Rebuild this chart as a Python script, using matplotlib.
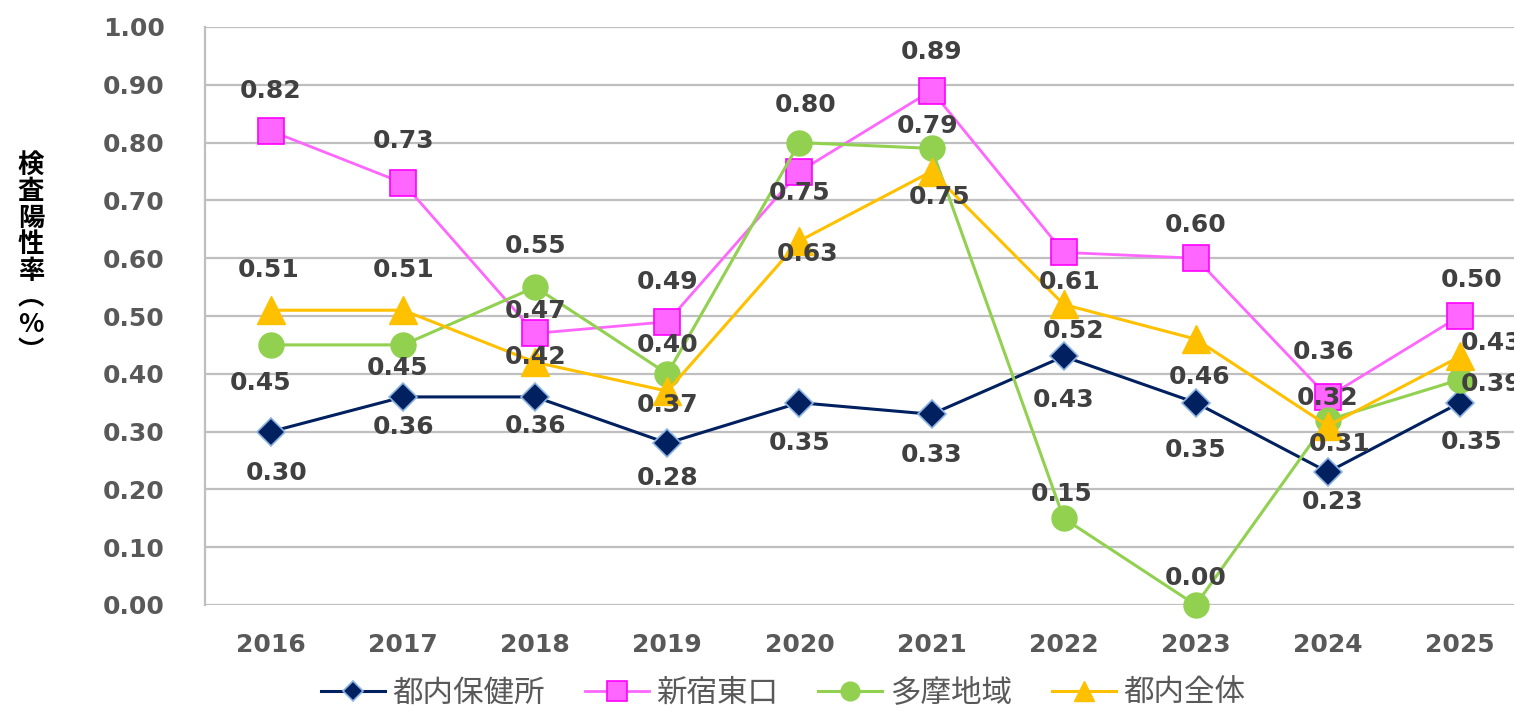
import matplotlib
matplotlib.use("Agg")
import matplotlib.pyplot as plt

plt.rcParams['font.family'] = ['DejaVu Sans', 'Noto Sans CJK JP']

years = ['2016', '2017', '2018', '2019', '2020', '2021', '2022', '2023', '2024', '2025']
series_names = ['都内保健所', '新宿東口', '多摩地域', '都内全体']

hokenjo = [0.30, 0.36, 0.36, 0.28, 0.35, 0.33, 0.43, 0.35, 0.23, 0.35]
shinjuku = [0.82, 0.73, 0.47, 0.49, 0.75, 0.89, 0.61, 0.60, 0.36, 0.50]
tama = [0.45, 0.45, 0.55, 0.40, 0.80, 0.79, 0.15, 0.00, 0.32, 0.39]
zentai = [0.51, 0.51, 0.42, 0.37, 0.63, 0.75, 0.52, 0.46, 0.31, 0.43]

# label offsets in pixels (dx, dy) for each point
off_hokenjo = [(6, -41), (0, -30), (0, -29), (0, -35), (0, -40), (0, -41), (0, -44), (0, -47), (5, -30), (12, -39)]
off_shinjuku = [(0, 40), (0, 42), (0, 22), (0, 40), (0, -22), (0, 39), (6, -30), (0, 33), (-4, 45), (12, 36)]
off_tama = [(-10, -38), (-6, -23), (0, 41), (0, 29), (6, 38), (-4, 22), (-2, 24), (0, 27), (0, 22), (32, -4)]
off_zentai = [(-2, 40), (0, 40), (0, 5), (0, -14), (8, -13), (8, -25), (10, -27), (4, -38), (12, -18), (32, 13)]

styles = [
    dict(color='#002060', marker='D', ms=14, mfc='#002060', mec='#8eb4e3', mew=1.2, lw=2.2),
    dict(color='#ff66ff', marker='s', ms=19, mfc='#ff66ff', mec='#ff00ff', mew=1.2, lw=2.0),
    dict(color='#92d050', marker='o', ms=18, mfc='#92d050', mec='#92d050', mew=1.0, lw=2.2),
    dict(color='#ffc000', marker='^', ms=20, mfc='#ffc000', mec='#ffc000', mew=1.0, lw=2.2),
]

fig = plt.figure(figsize=(15.14, 7.13), dpi=100)
ax = fig.add_axes([205 / 1514, 1 - 605 / 713, 1321 / 1514, 578 / 713])

x = list(range(len(years)))
handles = []
for vals, offs, st, name in zip([hokenjo, shinjuku, tama, zentai],
                                [off_hokenjo, off_shinjuku, off_tama, off_zentai],
                                styles, series_names):
    h, = ax.plot(x, vals, label=name, clip_on=False, **st)
    handles.append(h)
    for xi, v, (dx, dy) in zip(x, vals, offs):
        ax.annotate(f'{v:.2f}', (xi, v), xytext=(dx, dy), textcoords='offset pixels',
                    ha='center', va='center', fontsize=18, fontweight='bold',
                    color='#404040', zorder=10)

ax.set_xlim(-0.5, 9.5)
ax.set_ylim(0, 1.0)
ax.set_yticks([i / 10 for i in range(11)])
ax.set_yticklabels([f'{i / 10:.2f}' for i in range(11)])
ax.set_xticks(x)
ax.set_xticklabels(years)
ax.tick_params(length=0, labelsize=18, labelcolor='#595959')
ax.tick_params(axis='y', pad=29)
ax.tick_params(axis='x', pad=20)
for lab in ax.get_xticklabels() + ax.get_yticklabels():
    lab.set_fontweight('bold')

ax.grid(axis='y', color='#bfbfbf', lw=1.6)
ax.set_axisbelow(True)
for s in ['top', 'right', 'bottom']:
    ax.spines[s].set_visible(False)
ax.spines['left'].set_color('#bfbfbf')
ax.spines['left'].set_linewidth(1.6)

fig.text(31 / 1514, 1 - 258 / 713, '検\n査\n陽\n性\n率\n︵\n%\n︶', ha='center', va='center',
         fontsize=19, fontweight='bold', color='black', linespacing=0.98,
         family=['Noto Sans CJK JP', 'DejaVu Sans'])

leg = fig.legend(handles=handles, labels=series_names, loc='center', ncol=4,
                 bbox_to_anchor=(783 / 1514, 1 - 693 / 713), frameon=False,
                 prop={'family': ['Noto Sans CJK JP', 'DejaVu Sans'], 'size': 22},
                 handlelength=2.1, handletextpad=0.25, columnspacing=1.3)
for t in leg.get_texts():
    t.set_color('#595959')
for lh in leg.legend_handles:
    lh.set_markersize(lh.get_markersize() * 0.75)

fig.savefig('out.png', dpi=100)
